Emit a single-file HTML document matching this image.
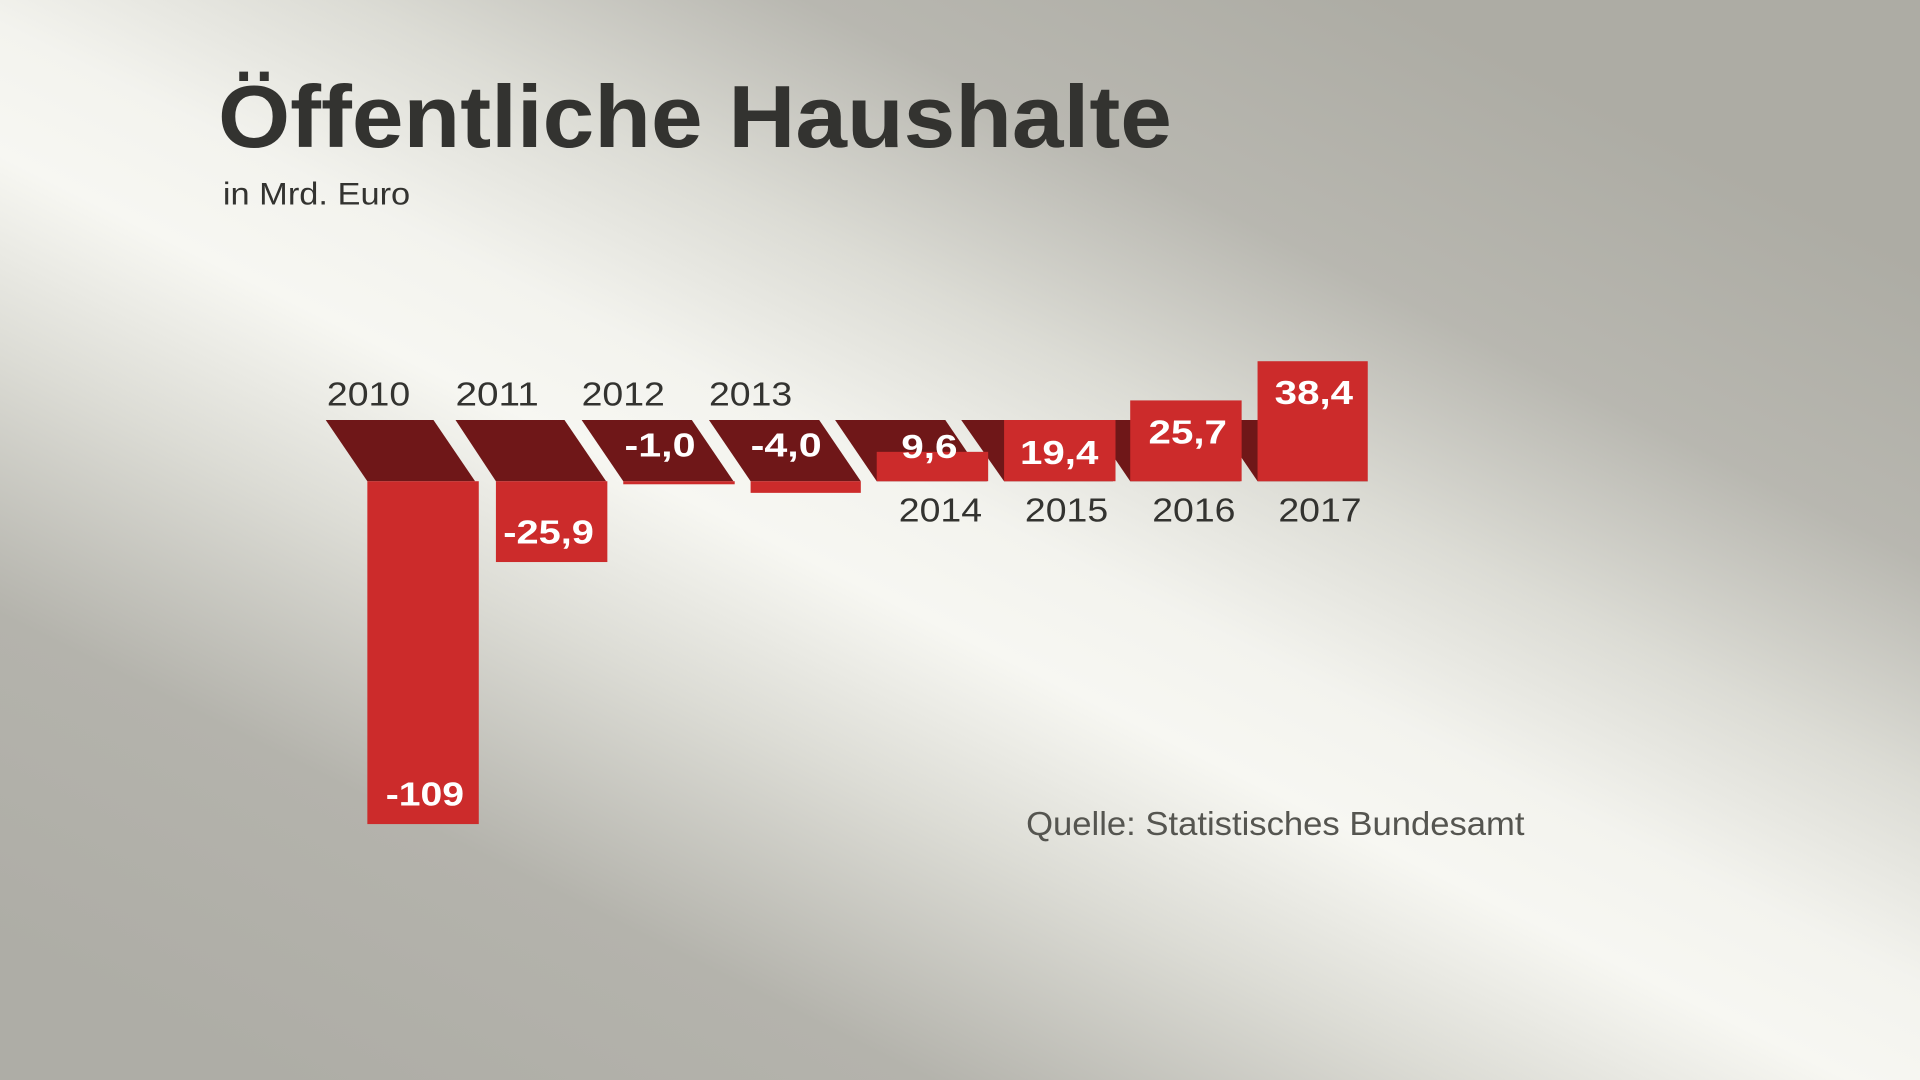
<!DOCTYPE html>
<html><head><meta charset="utf-8"><style>
html,body{margin:0;padding:0;width:1920px;height:1080px;overflow:hidden}
svg{display:block}
</style></head><body>
<svg width="1920" height="1080" viewBox="0 0 1568 882" preserveAspectRatio="none" xmlns="http://www.w3.org/2000/svg">
<defs>
<linearGradient id="bg" gradientUnits="userSpaceOnUse" x1="532" y1="1036" x2="1068" y2="-36">
<stop offset="0" stop-color="#aeada6"/>
<stop offset="0.2" stop-color="#b4b3ac"/>
<stop offset="0.36" stop-color="#dcdcd5"/>
<stop offset="0.48" stop-color="#f7f7f2"/>
<stop offset="0.56" stop-color="#f3f3ee"/>
<stop offset="0.68" stop-color="#dcdcd5"/>
<stop offset="0.82" stop-color="#b8b7b0"/>
<stop offset="1" stop-color="#adaca4"/>
</linearGradient>
</defs>
<rect x="0" y="0" width="1568" height="882" fill="url(#bg)"/>
<g font-family="Liberation Sans, sans-serif">
<text x="178" y="120" font-size="72" font-weight="bold" fill="#333330" textLength="779" lengthAdjust="spacingAndGlyphs">Öffentliche Haushalte</text>
<text x="182" y="167" font-size="26" fill="#333330" textLength="153" lengthAdjust="spacingAndGlyphs">in Mrd. Euro</text>
<text x="838" y="682" font-size="27" fill="#555550" textLength="407" lengthAdjust="spacingAndGlyphs">Quelle: Statistisches Bundesamt</text>
</g>
<g fill="#6f1718">
<polygon points="266,343 354,343 388,393 300,393"/>
<polygon points="372,343 461,343 495,393 405,393"/>
<polygon points="475,343 565,343 599,393 509,393"/>
<polygon points="579,343 669,343 703,393 613,393"/>
<polygon points="682,343 772,343 806,393 716,393"/>
<polygon points="785,343 875,343 909,393 820,393"/>
<polygon points="889,343 979,343 1013,393 923,393"/>
<polygon points="993,343 1083,343 1117,393 1027,393"/>
</g>
<g fill="#cc2b2b">
<rect x="300" y="393" width="91" height="280"/>
<rect x="405" y="393" width="91" height="66"/>
<rect x="509" y="393" width="91" height="2.5"/>
<rect x="613" y="393" width="90" height="9.5"/>
<rect x="716" y="369" width="91" height="24"/>
<rect x="820" y="343" width="91" height="50"/>
<rect x="923" y="327" width="91" height="66"/>
<rect x="1027" y="295" width="90" height="98"/>
</g>
<g font-family="Liberation Sans, sans-serif" font-size="27" fill="#333330" text-anchor="middle">
<text x="301" y="331" textLength="68" lengthAdjust="spacingAndGlyphs">2010</text>
<text x="406" y="331" textLength="68" lengthAdjust="spacingAndGlyphs">2011</text>
<text x="509" y="331" textLength="68" lengthAdjust="spacingAndGlyphs">2012</text>
<text x="613" y="331" textLength="68" lengthAdjust="spacingAndGlyphs">2013</text>
<text x="768" y="426" textLength="68" lengthAdjust="spacingAndGlyphs">2014</text>
<text x="871" y="426" textLength="68" lengthAdjust="spacingAndGlyphs">2015</text>
<text x="975" y="426" textLength="68" lengthAdjust="spacingAndGlyphs">2016</text>
<text x="1078" y="426" textLength="68" lengthAdjust="spacingAndGlyphs">2017</text>
</g>
<g font-family="Liberation Sans, sans-serif" font-size="27" font-weight="bold" fill="#ffffff" text-anchor="middle">
<text x="347" y="658" textLength="64" lengthAdjust="spacingAndGlyphs">-109</text>
<text x="448" y="444" textLength="74" lengthAdjust="spacingAndGlyphs">-25,9</text>
<text x="539" y="373" textLength="58" lengthAdjust="spacingAndGlyphs">-1,0</text>
<text x="642" y="373" textLength="58" lengthAdjust="spacingAndGlyphs">-4,0</text>
<text x="759" y="374" textLength="46" lengthAdjust="spacingAndGlyphs">9,6</text>
<text x="865" y="379" textLength="64" lengthAdjust="spacingAndGlyphs">19,4</text>
<text x="970" y="362" textLength="64" lengthAdjust="spacingAndGlyphs">25,7</text>
<text x="1073" y="330" textLength="64" lengthAdjust="spacingAndGlyphs">38,4</text>
</g>
</svg>
</body></html>
